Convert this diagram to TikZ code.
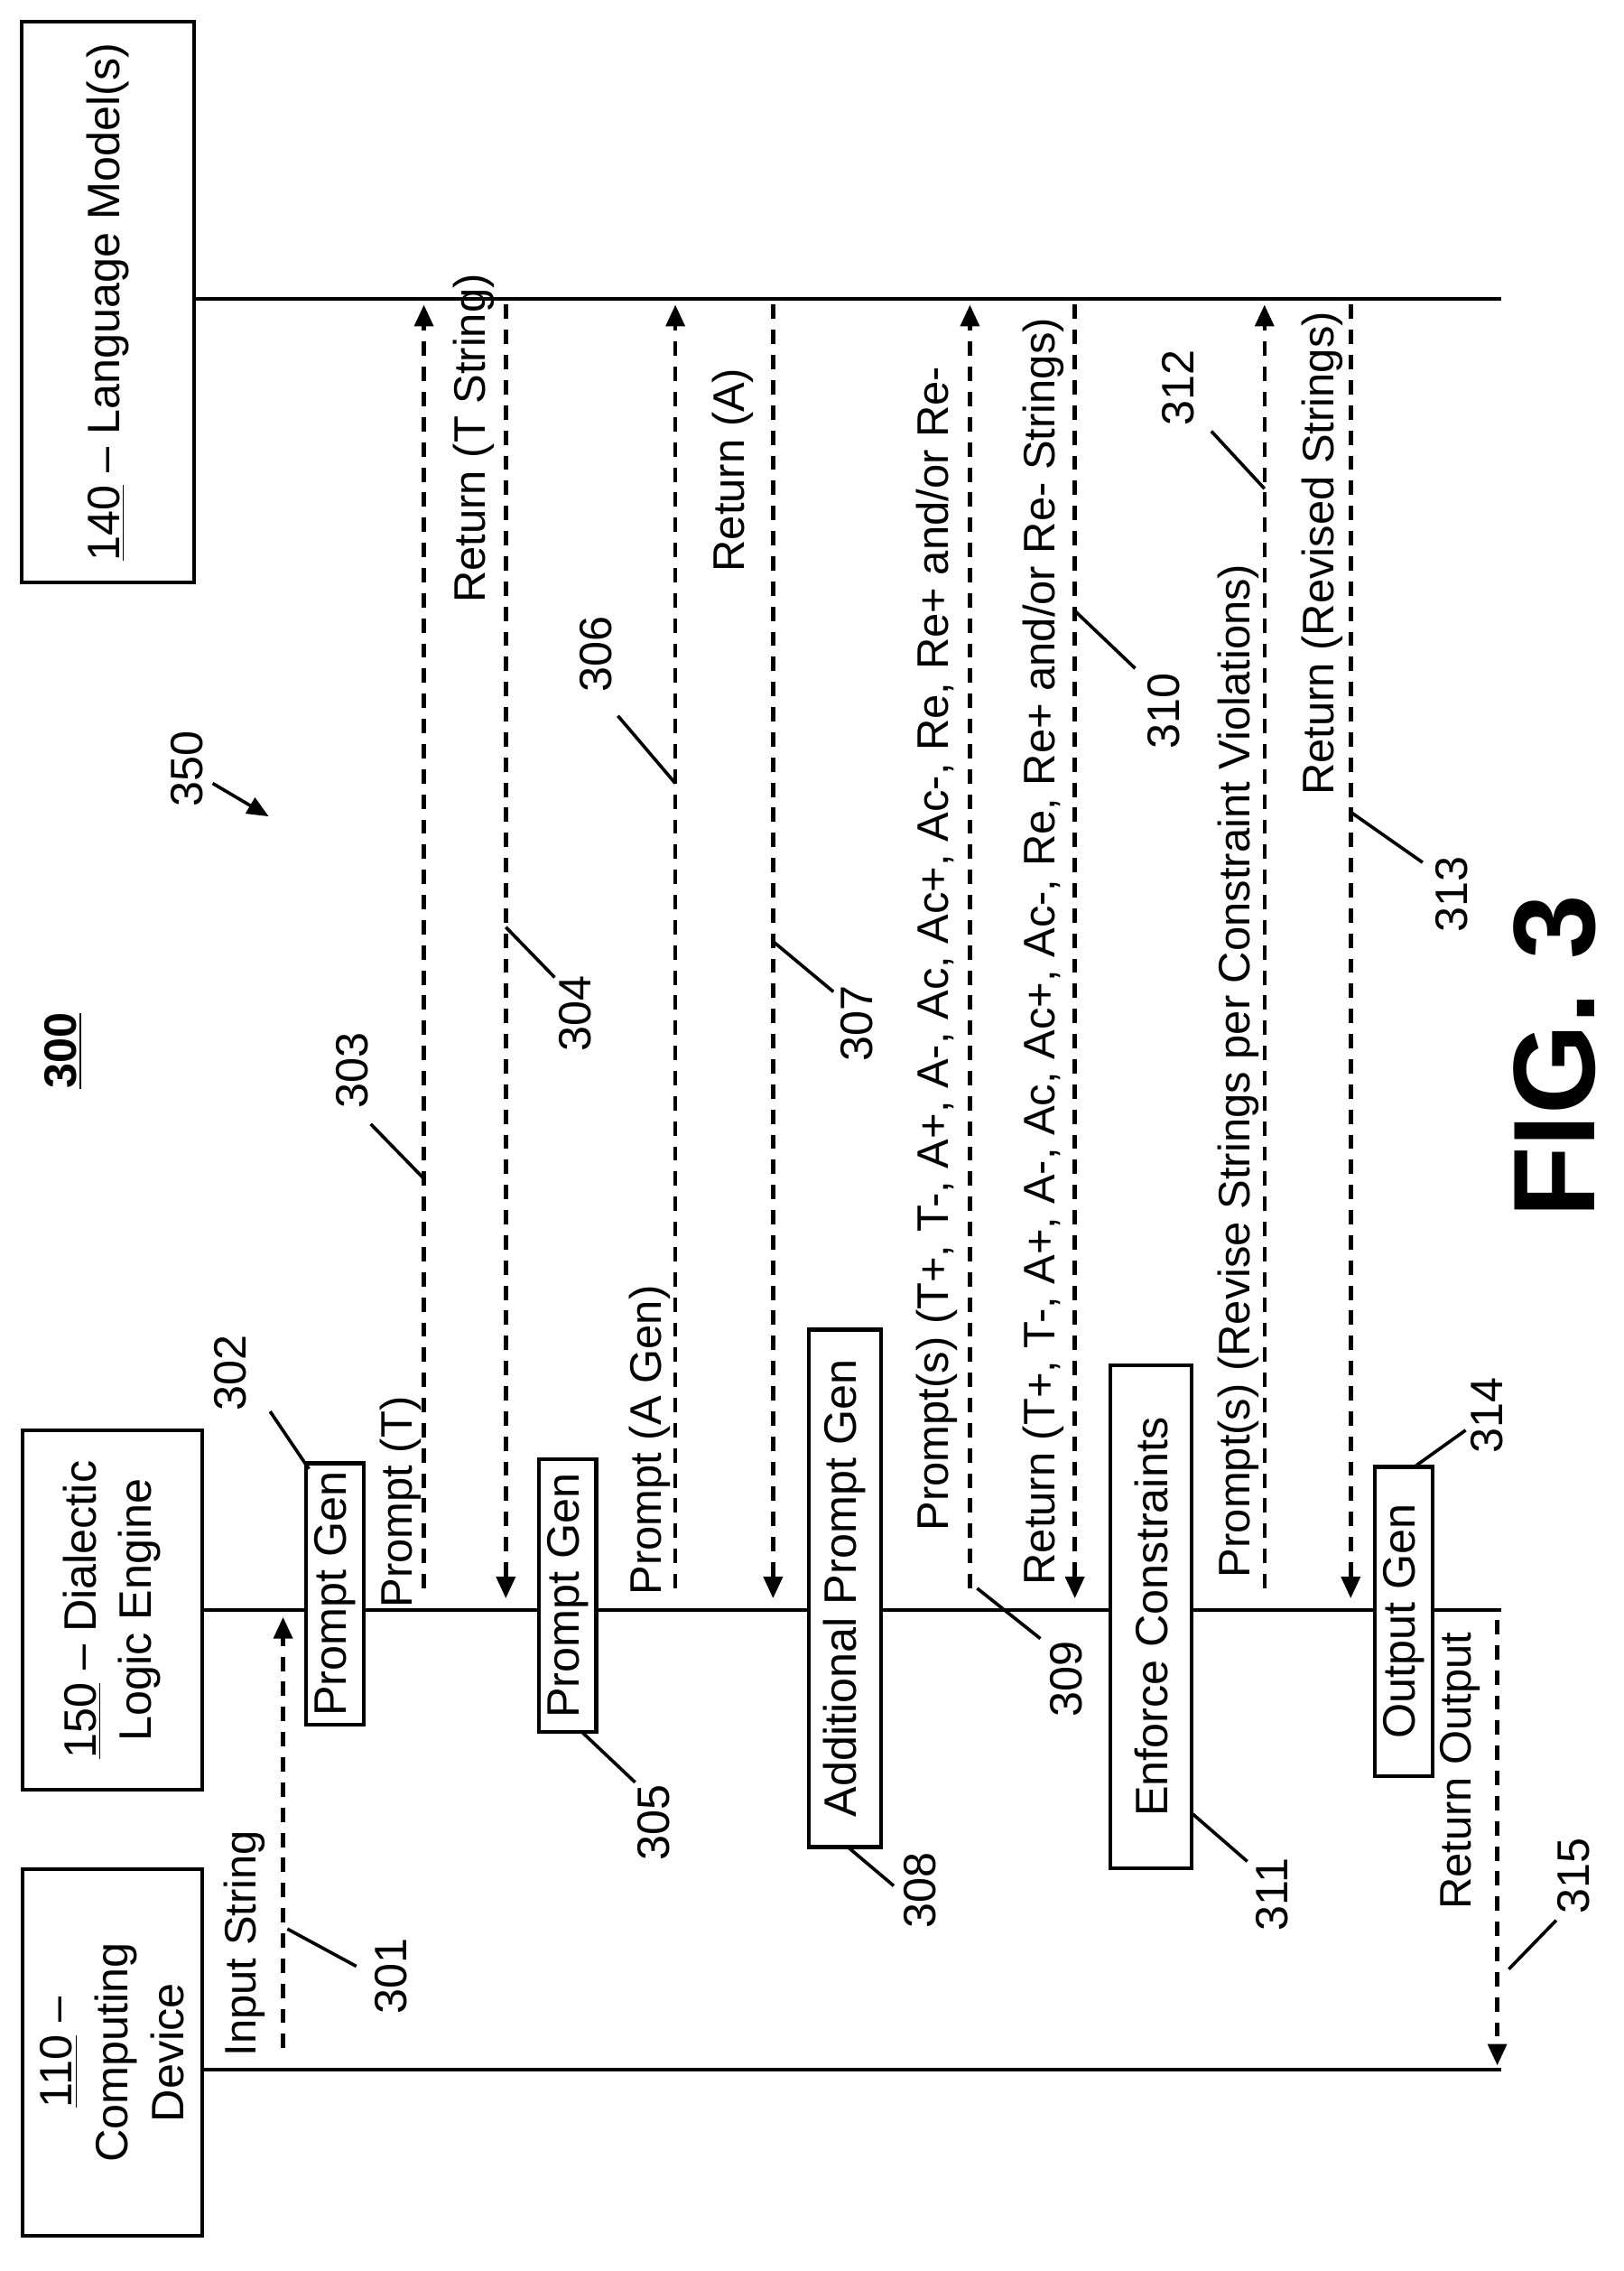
\documentclass[tikz,border=0pt]{standalone}
\usepackage{fontspec}
\setmainfont{Liberation Sans}
\usetikzlibrary{arrows.meta}
\begin{document}
\begin{tikzpicture}[x=0.02cm,y=-0.02cm,
  lbl/.style={rotate=90,font=\fontsize{17.5}{21}\selectfont,inner sep=0pt},
  num/.style={rotate=90,font=\fontsize{18}{21}\selectfont,inner sep=0pt},
  box/.style={draw,line width=1.5pt,fill=white,rotate=90,font=\fontsize{18}{22}\selectfont,align=center,inner sep=0pt},
  life/.style={line width=1.5pt},
  msg/.style={line width=1.6pt,dash pattern=on 0.2cm off 0.15cm,-{Triangle[length=0.3cm,width=0.26cm]}},
  lead/.style={line width=1.3pt}]
\useasboundingbox (0,0) rectangle (1130,1580);
% lifelines
\coordinate (lmA) at (135,208); \coordinate (lmB) at (1045,208);
\coordinate (enA) at (140,1120); \coordinate (enB) at (1045,1120);
\coordinate (cdA) at (140,1440); \coordinate (cdB) at (1045,1440);
\draw[life] (lmA) -- (lmB);
\draw[life] (enA) -- (enB);
\draw[life] (cdA) -- (cdB);
% participant boxes
\node[box,minimum width=390*0.02cm,minimum height=120*0.02cm] (lm) at (75,210) {\underline{140} -- Language Model(s)};
\node[box,minimum width=250*0.02cm,minimum height=125*0.02cm] (en) at (78,1120) {\underline{150} -- Dialectic\\Logic Engine};
\node[box,minimum width=255*0.02cm,minimum height=125*0.02cm] (cd) at (78,1428) {\underline{110} --\\Computing\\Device};
% activation boxes
\node[box,minimum width=182*0.02cm,minimum height=40*0.02cm] (b302) at (233,1109) {Prompt Gen};
\node[box,minimum width=190*0.02cm,minimum height=40*0.02cm] (b305) at (395,1110) {Prompt Gen};
\node[box,minimum width=360*0.02cm,minimum height=50*0.02cm] (b308) at (588,1105) {Additional Prompt Gen};
\node[box,minimum width=350*0.02cm,minimum height=57*0.02cm] (b311) at (801,1125) {Enforce Constraints};
\node[box,minimum width=215*0.02cm,minimum height=40*0.02cm] (b314) at (977,1128) {Output Gen};
% messages
\coordinate (s301) at (197,1425); \coordinate (e301) at (197,1125);
\coordinate (s303) at (295,1105); \coordinate (e303) at (295,212);
\coordinate (s304) at (352,212); \coordinate (e304) at (352,1112);
\coordinate (s306) at (470,1105); \coordinate (e306) at (470,212);
\coordinate (s307) at (538,212); \coordinate (e307) at (538,1112);
\coordinate (s309) at (675,1105); \coordinate (e309) at (675,212);
\coordinate (s310) at (748,212); \coordinate (e310) at (748,1112);
\coordinate (s312) at (880,1105); \coordinate (e312) at (880,212);
\coordinate (s313) at (940,212); \coordinate (e313) at (940,1112);
\coordinate (s315) at (1042,1127); \coordinate (e315) at (1042,1437);
\foreach \m in {301,303,304,306,307,309,310,312,313,315} \draw[msg] (s\m) -- (e\m);
% message labels
\node[lbl] (t301) at (170,1352) {Input String};
\node[lbl] (t303) at (279,1045) {Prompt (T)};
\node[lbl] (t304) at (330,305) {Return (T String)};
\node[lbl] (t306) at (452,1002) {Prompt (A Gen)};
\node[lbl] (t307) at (510,327) {Return (A)};
\node[lbl] (t309) at (652,660) {Prompt(s) (T+, T-, A+, A-, Ac, Ac+, Ac-, Re, Re+ and/or Re-};
\node[lbl] (t310) at (726,662) {Return (T+, T-, A+, A-, Ac, Ac+, Ac-, Re, Re+ and/or Re- Strings)};
\node[lbl] (t312) at (862,745) {Prompt(s) (Revise Strings per Constraint Violations)};
\node[lbl] (t313) at (920,385) {Return (Revised Strings)};
\node[lbl] (t315) at (1016,1232) {Return Output};
% reference numerals
\node[num] (n301) at (272,1375) {301};
\node[num] (n302) at (160,955) {302};
\node[num] (n303) at (245,745) {303};
\node[num] (n304) at (400,705) {304};
\node[num] (n305) at (455,1268) {305};
\node[num] (n306) at (415,455) {306};
\node[num] (n307) at (596,712) {307};
\node[num] (n308) at (640,1315) {308};
\node[num] (n309) at (742,1168) {309};
\node[num] (n310) at (810,495) {310};
\node[num] (n311) at (885,1318) {311};
\node[num] (n312) at (820,270) {312};
\node[num] (n313) at (1010,622) {313};
\node[num] (n314) at (1035,985) {314};
\node[num] (n315) at (1095,1305) {315};
\coordinate (a301) at (200,1342); \coordinate (z301) at (248,1368);
\coordinate (a302) at (188,982); \coordinate (z302) at (215,1022);
\coordinate (a303) at (258,782); \coordinate (z303) at (295,820);
\coordinate (a304) at (352,645); \coordinate (z304) at (386,680);
\coordinate (a305) at (405,1205); \coordinate (z305) at (442,1240);
\coordinate (a306) at (430,498); \coordinate (z306) at (470,545);
\coordinate (a307) at (538,655); \coordinate (z307) at (580,690);
\coordinate (a308) at (590,1285); \coordinate (z308) at (622,1312);
\coordinate (a309) at (680,1105); \coordinate (z309) at (724,1140);
\coordinate (a310) at (748,425); \coordinate (z310) at (790,465);
\coordinate (a311) at (830,1262); \coordinate (z311) at (868,1295);
\coordinate (a312) at (843,300); \coordinate (z312) at (880,340);
\coordinate (a313) at (940,565); \coordinate (z313) at (990,600);
\coordinate (a314) at (985,1020); \coordinate (z314) at (1020,995);
\coordinate (a315) at (1050,1370); \coordinate (z315) at (1083,1336);
\foreach \m in {301,...,315} \draw[lead] (a\m) -- (z\m);
% figure labels
\node[num,font=\fontsize{18}{21}\selectfont\bfseries] (n300) at (44,731) {\underline{300}};
\node[num] (n350) at (130,535) {350};
\coordinate (a350) at (148,545); \coordinate (z350) at (187,568);
\draw[lead,-{Triangle[length=0.3cm,width=0.25cm]}] (a350) -- (z350);
\node[rotate=90,font=\fontsize{46}{52}\selectfont\bfseries,inner sep=0pt] (fig) at (1082,735) {FIG. 3};
\end{tikzpicture}
\end{document}
